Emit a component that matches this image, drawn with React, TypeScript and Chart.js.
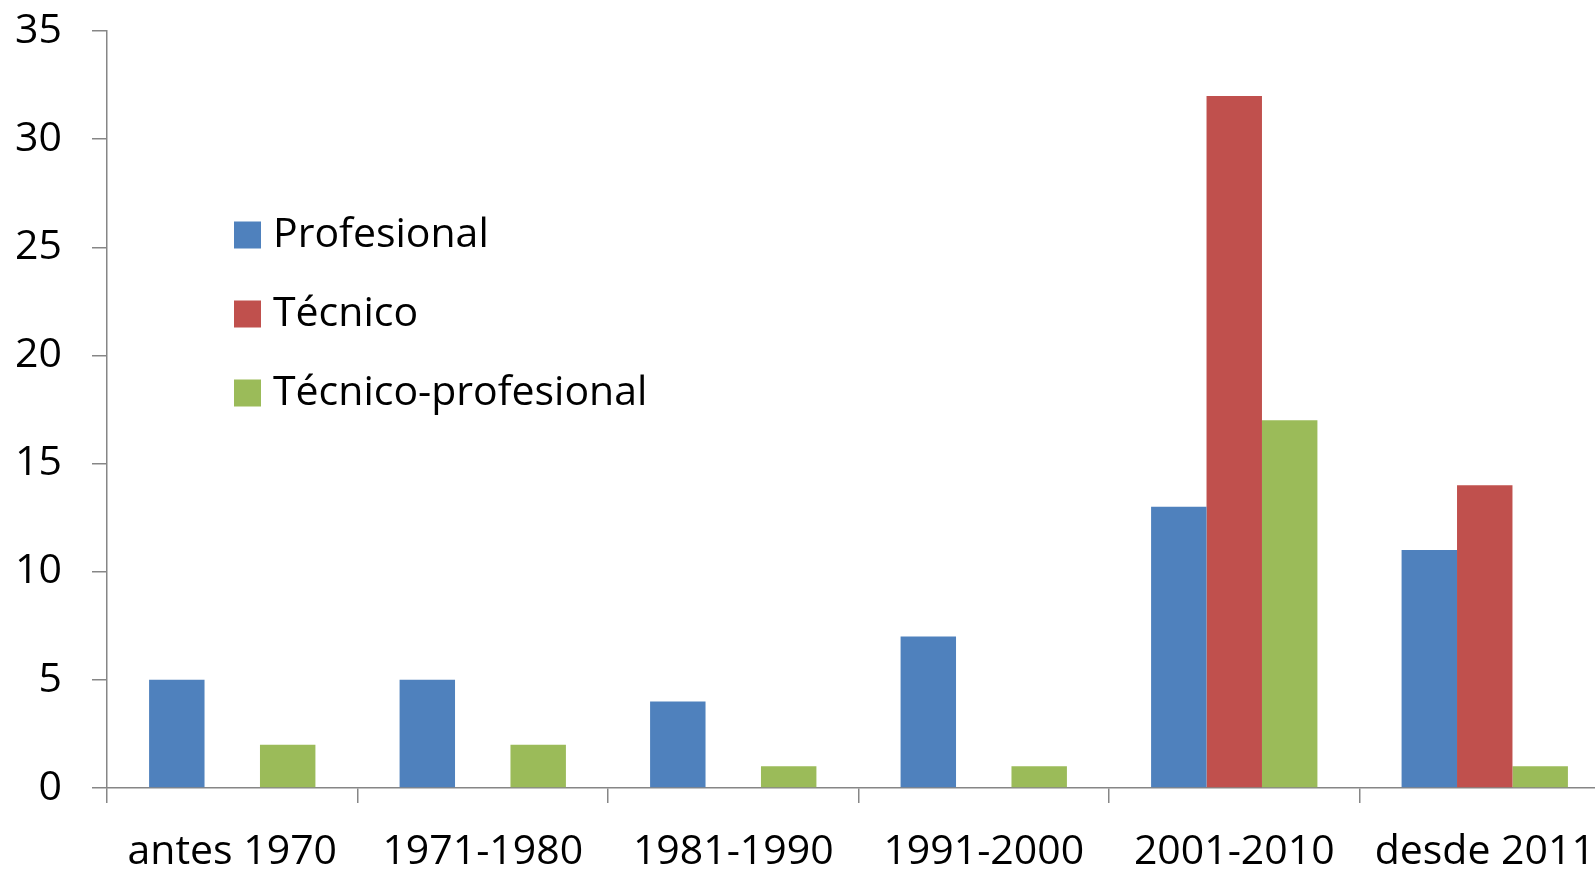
import React, { useEffect, useRef } from "react";
import { Chart, registerables } from "chart.js";

Chart.register(...registerables);

const categories = ["antes 1970", "1971-1980", "1981-1990", "1991-2000", "2001-2010", "desde 2011"];
const profesional = [5, 5, 4, 7, 13, 11];
const tecnico = [0, 0, 0, 0, 32, 14];
const tecnicoProfesional = [2, 2, 1, 1, 17, 1];
const seriesNames = ["Profesional", "Técnico", "Técnico-profesional"];
const seriesColors = ["#4F81BD", "#C0504D", "#9BBB59"];

const FONT = "'Open Sans', Lato, sans-serif";
const FONT_SIZE = 41;
const AXIS_COLOR = "#868686";

const legendPlugin = {
  id: "customLegend",
  afterDraw(chart: any) {
    const ctx = chart.ctx;
    ctx.save();
    ctx.font = `${FONT_SIZE}px ${FONT}`;
    ctx.textBaseline = "middle";
    ctx.fillStyle = "#000";
    chart.data.datasets.forEach((ds: any, i: number) => {
      const cy = 235 + i * 79;
      ctx.fillStyle = ds.backgroundColor;
      ctx.fillRect(234, cy - 13.5, 27, 27);
      ctx.fillStyle = "#000";
      ctx.fillText(ds.label, 273, cy);
    });
    ctx.restore();
  },
};

export default function App() {
  const ref = useRef<HTMLCanvasElement>(null);
  useEffect(() => {
    if (!ref.current) return;
    const chart = new Chart(ref.current, {
      type: "bar",
      data: {
        labels: categories,
        datasets: [profesional, tecnico, tecnicoProfesional].map((d, i) => ({
          label: seriesNames[i],
          data: d,
          backgroundColor: seriesColors[i],
          borderWidth: 0,
          barPercentage: 1,
          categoryPercentage: 0.664,
        })),
      },
      options: {
        responsive: false,
        animation: false,
        layout: { padding: { left: 0, top: 31, right: 30, bottom: 0 } },
        plugins: { legend: { display: false }, tooltip: { enabled: false } },
        scales: {
          x: {
            grid: {
              display: true,
              drawOnChartArea: false,
              drawTicks: true,
              tickLength: 15,
              color: AXIS_COLOR,
              lineWidth: 1.5,
              offset: true,
            },
            border: { display: true, color: AXIS_COLOR, width: 1.5 },
            ticks: {
              color: "#000",
              font: { family: FONT, size: FONT_SIZE },
              padding: 25,
              maxRotation: 0,
              autoSkip: false,
            },
            afterFit(scale: any) {
              scale.height = 82;
              scale.paddingLeft = 0;
              scale.paddingRight = 0;
            },
          },
          y: {
            min: 0,
            max: 35,
            grid: {
              display: true,
              drawOnChartArea: false,
              drawTicks: true,
              tickLength: 15,
              color: AXIS_COLOR,
              lineWidth: 1.5,
            },
            border: { display: true, color: AXIS_COLOR, width: 1.5 },
            ticks: {
              stepSize: 5,
              color: "#000",
              font: { family: FONT, size: FONT_SIZE },
              padding: 30,
            },
            afterFit(scale: any) {
              scale.width = 107;
              scale.paddingTop = 0;
              scale.paddingBottom = 0;
            },
          },
        },
      },
      plugins: [legendPlugin],
    });
    return () => chart.destroy();
  }, []);
  return (
    <div style={{ position: "fixed", left: 0, top: 0, width: 1595, height: 870, overflow: "hidden", background: "#fff" }}>
      <canvas ref={ref} width={1640} height={870} style={{ display: "block" }} />
    </div>
  );
}
